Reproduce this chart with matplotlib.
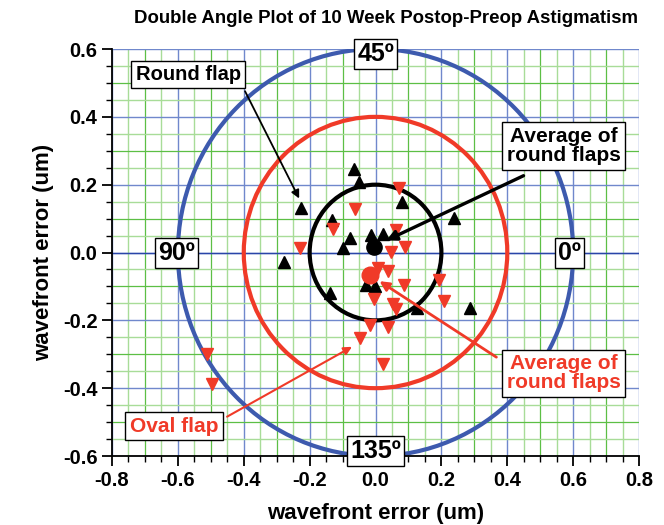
import numpy as np
import matplotlib
matplotlib.use("Agg")
import matplotlib.pyplot as plt
from matplotlib.patches import Circle
from matplotlib import font_manager

# round flap (black, up triangles)
round_x = [-0.225, -0.064, -0.050, 0.081, -0.131, -0.079, -0.099, -0.013, 0.022,
           -0.279, -0.030, -0.003, -0.137, 0.125, 0.287, 0.239]
round_y = [0.130, 0.247, 0.207, 0.148, 0.096, 0.043, 0.014, 0.053, 0.055,
           -0.027, -0.097, -0.100, -0.120, -0.163, -0.163, 0.102]

# oval flap (red, down triangles)
oval_x = [0.071, -0.061, -0.129, 0.063, -0.230, 0.047, 0.091, 0.037, 0.007, 0.085, 0.194,
          -0.006, 0.052, 0.063, 0.209, -0.018, 0.037, -0.046, 0.022, -0.513, -0.495]
oval_y = [0.191, 0.129, 0.070, 0.065, 0.014, 0.001, 0.016, -0.055, -0.045, -0.097, -0.081,
          -0.137, -0.153, -0.166, -0.142, -0.215, -0.220, -0.252, -0.328, -0.299, -0.389]

avg_round = (-0.005, 0.016)
avg_oval = (-0.018, -0.065)

radii = [0.6, 0.4, 0.2]
ring_colors = ['#3d5aae', '#f03a28', 'black']

angle_labels = ['0º', '45º', '90º', '135º']
angle_pos = [(0.59, 0.0), (0.0, 0.585), (-0.604, 0.0), (0.0, -0.585)]

xticks = [-0.8, -0.6, -0.4, -0.2, 0.0, 0.2, 0.4, 0.6, 0.8]
yticks = [-0.6, -0.4, -0.2, 0.0, 0.2, 0.4, 0.6]

RED = '#f03a28'
names = set(f.name for f in font_manager.fontManager.ttflist)
base = 'Liberation Sans' if 'Liberation Sans' in names else 'DejaVu Sans'
plt.rcParams['font.family'] = [base, 'DejaVu Sans']

fig = plt.figure(figsize=(6.64, 5.25), dpi=100)
ax = fig.add_axes([0.1687, 0.1314, 0.7937, 0.7752])
ax.set_xlim(-0.8, 0.8)
ax.set_ylim(-0.6, 0.6)


def grid_style(v):
    k = int(round(v / 0.05))
    if k % 4 == 0:
        return '#7088cc', 1.0
    if k % 2 == 0:
        return '#5cbf45', 0.9
    return '#a8dc98', 1.0


for v in np.arange(-0.8, 0.801, 0.05):
    c, w = grid_style(v)
    ax.axvline(v, color=c, lw=w, zorder=0)
for v in np.arange(-0.6, 0.601, 0.05):
    c, w = grid_style(v)
    ax.axhline(v, color=c, lw=w, zorder=0)
ax.axhline(0, color='#2a45a8', lw=1.0, zorder=0)

for r, c in zip(radii, ring_colors):
    ax.add_patch(Circle((0, 0), r, fill=False, ec=c, lw=3.0, zorder=2))

ax.plot(round_x, round_y, '^', color='black', ms=9, zorder=3)
ax.plot(oval_x, oval_y, 'v', color=RED, ms=9, mec=RED, zorder=3)
ax.plot(*avg_round, 'o', color='black', ms=11, zorder=4)
ax.plot(*avg_oval, 'o', color=RED, ms=12, zorder=4)

box = dict(boxstyle='square,pad=0.12', fc='white', ec='black', lw=1.0)
for t, (x, y) in zip(angle_labels, angle_pos):
    ax.text(x, y, t, ha='center', va='center', fontsize=18, fontweight='bold',
            bbox=box, zorder=6, clip_on=False)

ax.annotate('', xy=(-0.228, 0.152), xytext=(-0.40, 0.483),
            arrowprops=dict(arrowstyle='-|>', color='black', lw=1.3, mutation_scale=12), zorder=5)
ax.annotate('', xy=(0.025, 0.032), xytext=(0.457, 0.23),
            arrowprops=dict(arrowstyle='-|>', color='black', lw=2.4, mutation_scale=15), zorder=5)
ax.annotate('', xy=(0.005, -0.08), xytext=(0.374, -0.313),
            arrowprops=dict(arrowstyle='-|>', color=RED, lw=2.0, mutation_scale=14), zorder=5)
ax.annotate('', xy=(-0.064, -0.274), xytext=(-0.458, -0.488),
            arrowprops=dict(arrowstyle='-|>', color=RED, lw=1.5, mutation_scale=12), zorder=5)

lbox = dict(boxstyle='square,pad=0.22', fc='white', ec='black', lw=1.0)
ax.text(-0.568, 0.525, 'Round flap', ha='center', va='center', fontsize=14.5,
        fontweight='bold', bbox=lbox, zorder=6)
ax.text(0.572, 0.314, 'Average of\nround flaps', ha='center', va='center', fontsize=15,
        fontweight='bold', bbox=lbox, zorder=6, linespacing=1.0)
ax.text(0.571, -0.356, 'Average of\nround flaps', ha='center', va='center', fontsize=15,
        fontweight='bold', color=RED, bbox=lbox, zorder=6, linespacing=1.0)
ax.text(-0.612, -0.512, 'Oval flap', ha='center', va='center', fontsize=15,
        fontweight='bold', color=RED, bbox=lbox, zorder=6)

ax.set_xticks(xticks)
ax.set_yticks(yticks)
ax.set_xticks(np.arange(-0.8, 0.801, 0.05), minor=True)
ax.set_yticks(np.arange(-0.6, 0.601, 0.05), minor=True)
ax.set_xticklabels(['%.1f' % v for v in xticks])
ax.set_yticklabels(['%.1f' % v for v in yticks])
ax.tick_params(which='major', direction='out', length=7, width=1.3, labelsize=14.5)
ax.tick_params(which='minor', direction='out', length=4, width=1.0)
for lab in ax.get_xticklabels() + ax.get_yticklabels():
    lab.set_fontweight('bold')
ax.spines['top'].set_visible(False)
ax.spines['right'].set_visible(False)
ax.spines['left'].set_linewidth(1.3)
ax.spines['bottom'].set_linewidth(1.3)

ax.set_xlabel('wavefront error (um)', fontsize=16, fontweight='bold', labelpad=10)
ax.set_ylabel('wavefront error (um)', fontsize=16, fontweight='bold', labelpad=6)

fig.text(0.581, 0.964, 'Double Angle Plot of 10 Week Postop-Preop Astigmatism',
         ha='center', va='center', fontsize=13.4, fontweight='bold')

fig.savefig('out.png', dpi=100)
